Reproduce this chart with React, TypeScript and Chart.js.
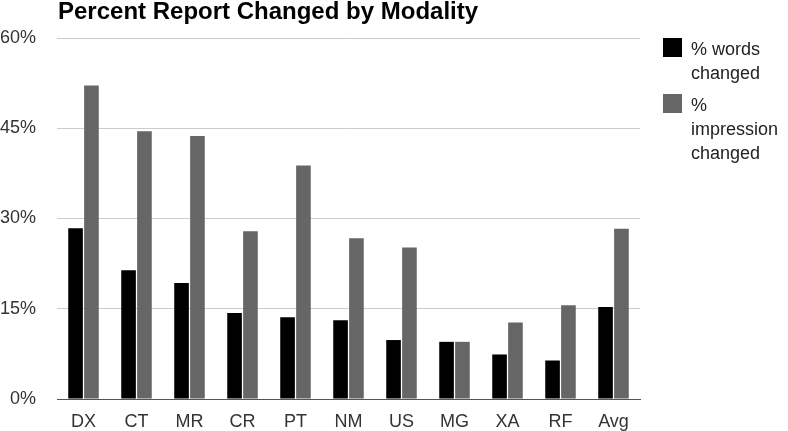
import React, { useEffect, useRef } from "react";
import { Chart, registerables } from "chart.js";

Chart.register(...registerables);

const titleText = "Percent Report Changed by Modality";
const categories = ["DX", "CT", "MR", "CR", "PT", "NM", "US", "MG", "XA", "RF", "Avg"];
const wordsChanged = [28.4, 21.4, 19.3, 14.3, 13.6, 13.1, 9.8, 9.5, 7.4, 6.4, 15.3];
const impressionChanged = [52.1, 44.5, 43.7, 27.9, 38.8, 26.7, 25.2, 9.5, 12.7, 15.6, 28.3];
const seriesNames = ["% words changed", "% impression changed"];
const legendLines = [["% words", "changed"], ["%", "impression", "changed"]];
const yTicks = [0, 15, 30, 45, 60];

const FONT = "'Liberation Sans', Arial, sans-serif";

const titlePlugin = {
  id: "customTitle",
  afterDraw(chart: any) {
    const ctx = chart.ctx;
    ctx.save();
    ctx.font = `bold 24px ${FONT}`;
    ctx.fillStyle = "#000";
    ctx.textAlign = "left";
    ctx.textBaseline = "alphabetic";
    ctx.fillText(titleText, chart.chartArea.left + 1, 19);
    ctx.restore();
  },
};

const legendPlugin = {
  id: "customLegend",
  afterDraw(chart: any) {
    const ctx = chart.ctx;
    const x0 = chart.chartArea.right + 23;
    let top = chart.chartArea.top;
    ctx.save();
    ctx.font = `18px ${FONT}`;
    ctx.textAlign = "left";
    ctx.textBaseline = "alphabetic";
    chart.data.datasets.forEach((ds: any, i: number) => {
      ctx.fillStyle = ds.backgroundColor;
      ctx.fillRect(x0, top, 19, 19);
      ctx.fillStyle = "#222";
      const lines = legendLines[i];
      lines.forEach((ln: string, j: number) => {
        ctx.fillText(ln, x0 + 28, top + 17 + j * 24);
      });
      top += lines.length * 24 + 8;
    });
    ctx.restore();
  },
};

export default function App() {
  const ref = useRef<HTMLCanvasElement | null>(null);
  useEffect(() => {
    if (!ref.current) return;
    const chart = new Chart(ref.current, {
      type: "bar",
      data: {
        labels: categories,
        datasets: [
          {
            label: seriesNames[0],
            data: wordsChanged,
            backgroundColor: "#000000",
            borderWidth: 0,
            categoryPercentage: 0.6,
            barPercentage: 0.92,
          },
          {
            label: seriesNames[1],
            data: impressionChanged,
            backgroundColor: "#666666",
            borderWidth: 0,
            categoryPercentage: 0.6,
            barPercentage: 0.92,
          },
        ],
      },
      options: {
        animation: false,
        responsive: true,
        maintainAspectRatio: false,
        layout: { padding: { top: 38, right: 148, bottom: 0, left: 0 } },
        plugins: {
          legend: { display: false },
          title: { display: false },
          tooltip: { enabled: false },
        },
        scales: {
          x: {
            grid: { display: false, drawTicks: false },
            border: { display: true, color: "#555", width: 1 },
            ticks: { color: "#333", font: { family: FONT, size: 18 }, padding: 12 },
            afterFit(scale: any) {
              scale.height = 32;
            },
          },
          y: {
            min: 0,
            max: 60,
            afterBuildTicks(scale: any) {
              scale.ticks = yTicks.map((v) => ({ value: v }));
            },
            grid: { color: "#cccccc", lineWidth: 1, drawTicks: false },
            border: { display: false },
            ticks: {
              color: "#333",
              font: { family: FONT, size: 18 },
              padding: 21,
              callback: (v: any) => `${v}%`,
            },
            afterFit(scale: any) {
              scale.width = 57;
            },
          },
        },
      },
      plugins: [titlePlugin, legendPlugin],
    });
    return () => chart.destroy();
  }, []);
  return (
    <div style={{ position: "absolute", left: 0, top: 0, width: 788, height: 431, background: "#fff" }}>
      <canvas ref={ref} />
    </div>
  );
}
